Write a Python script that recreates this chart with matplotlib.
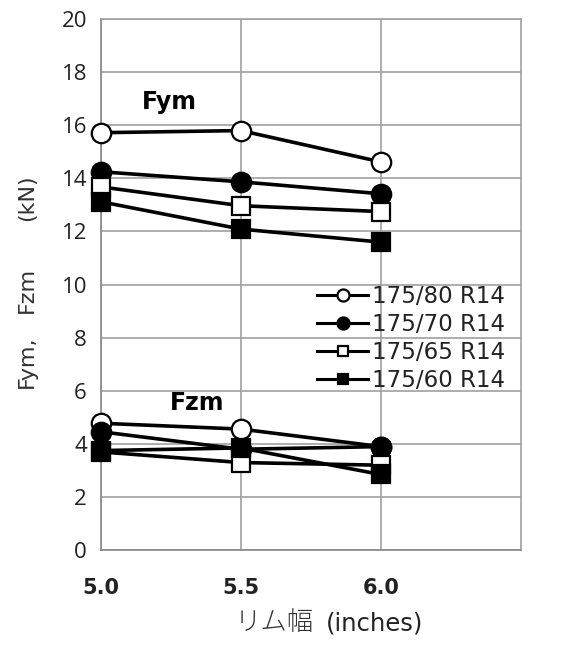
import matplotlib
matplotlib.use("Agg")
import matplotlib.pyplot as plt

rim_width = [5.0, 5.5, 6.0]
labels = ["175/80 R14", "175/70 R14", "175/65 R14", "175/60 R14"]
fym = {
    "175/80 R14": [15.72, 15.80, 14.62],
    "175/70 R14": [14.25, 13.87, 13.42],
    "175/65 R14": [13.68, 12.97, 12.75],
    "175/60 R14": [13.12, 12.09, 11.60],
}
fzm = {
    "175/80 R14": [4.78, 4.56, 3.90],
    "175/70 R14": [4.46, 3.80, 3.90],
    "175/65 R14": [3.70, 3.30, 3.20],
    "175/60 R14": [3.75, 3.85, 2.85],
}
styles = {
    "175/80 R14": dict(marker="o", mfc="white", ms=14),
    "175/70 R14": dict(marker="o", mfc="black", ms=14),
    "175/65 R14": dict(marker="s", mfc="white", ms=12.5),
    "175/60 R14": dict(marker="s", mfc="black", ms=12.5),
}
yticks = [0, 2, 4, 6, 8, 10, 12, 14, 16, 18, 20]
xticks = [5.0, 5.5, 6.0]

fig = plt.figure(figsize=(5.73, 6.45), dpi=100)
ax = fig.add_axes([0.176, 0.147, 0.733, 0.8235])

for lab in labels:
    st = styles[lab]
    ax.plot(rim_width, fym[lab], color="black", lw=2.6, marker=st["marker"],
            mfc=st["mfc"], mec="black", mew=1.6, ms=st["ms"], zorder=3,
            clip_on=False)
for lab in labels:
    st = styles[lab]
    ax.plot(rim_width, fzm[lab], color="black", lw=2.6, marker=st["marker"],
            mfc=st["mfc"], mec="black", mew=1.6, ms=st["ms"], zorder=3,
            clip_on=False, label=lab)

ax.set_xlim(5.0, 6.5)
ax.set_ylim(0, 20)
ax.set_xticks(xticks)
ax.set_xticklabels([f"{v:.1f}" for v in xticks], fontsize=15, fontweight="bold",
                   family="DejaVu Sans", color="#222222")
ax.set_yticks(yticks)
ax.set_yticklabels([str(v) for v in yticks], fontsize=16, family="Open Sans",
                   color="#222222")
ax.tick_params(axis="x", length=0, pad=20)
ax.tick_params(axis="y", length=0, pad=10)
ax.grid(True, color="#a0a0a0", lw=1.2)
ax.set_axisbelow(True)
for s in ax.spines.values():
    s.set_color("#a0a0a0")
    s.set_linewidth(1.2)
ax.spines["left"].set_color("#888888")
ax.spines["bottom"].set_color("#888888")

ax.text(5.246, 16.87, "Fym", fontsize=17, fontweight="bold", family="DejaVu Sans",
        ha="center", va="center")
ax.text(5.343, 5.54, "Fzm", fontsize=17, fontweight="bold", family="DejaVu Sans",
        ha="center", va="center")

leg = ax.legend(loc="upper left", bbox_to_anchor=(0.514, 0.499), frameon=False,
                handlelength=2.25, handletextpad=0.15, labelspacing=0.22,
                borderaxespad=0, borderpad=0, markerscale=0.62,
                prop=dict(family="DejaVu Sans", size=16.5))
for t in leg.get_texts():
    t.set_color("#222222")
for h in leg.legend_handles:
    h.set_linewidth(2.2)

ylab_kw = dict(rotation=90, ha="center", va="center", fontsize=16,
               family="DejaVu Sans", color="#333333")
fig.text(0.047, 0.439, "Fym,", **ylab_kw)
fig.text(0.047, 0.550, "Fzm", **ylab_kw)
fig.text(0.047, 0.693, "(kN)", **ylab_kw)

fig.text(0.548, 0.036, "リム幅", ha="right", va="center", fontsize=19,
         family=["Noto Sans CJK JP", "DejaVu Sans"], fontweight="light", color="#333333")
fig.text(0.568, 0.034, "(inches)", ha="left", va="center", fontsize=17.5,
         family=["DejaVu Sans"], color="#222222")

fig.savefig("out.png", dpi=100)
